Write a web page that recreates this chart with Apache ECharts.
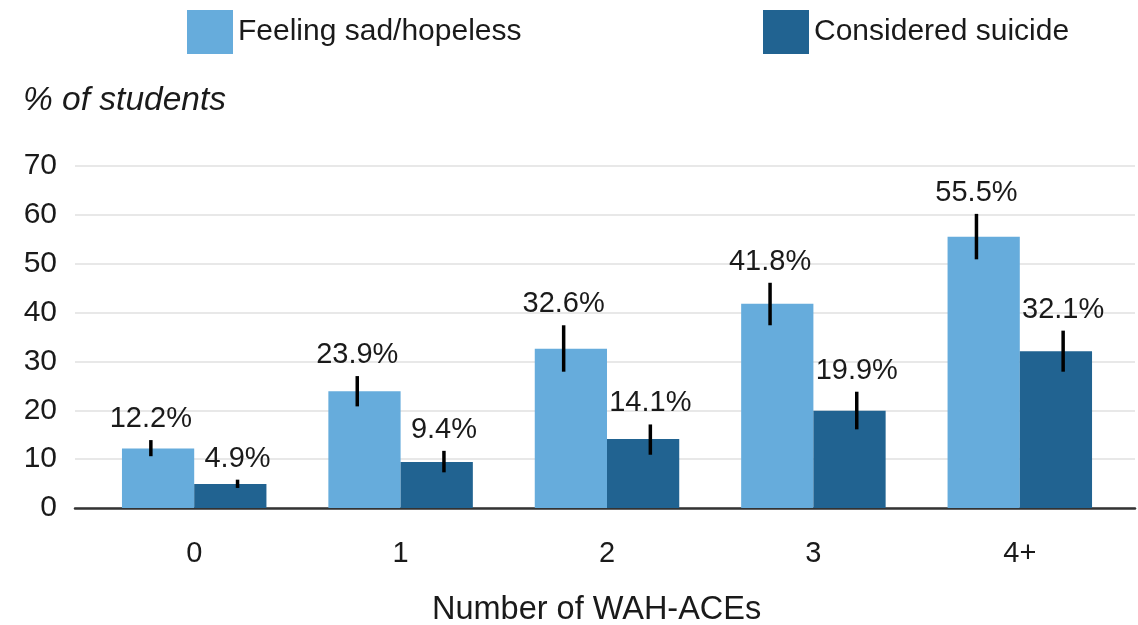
<!DOCTYPE html>
<html>
	<head>
		<meta charset="UTF-8">
		<title>WAH-ACEs</title>
		<style>
			html, body { margin: 0; padding: 0; background: #fff; }
			#main { width: 1138px; height: 625px; }
		</style>
	</head>
	<body>
		<div id="main"></div>
		<script type="text/javascript" src="https://cdn.jsdelivr.net/npm/echarts@6/dist/echarts.min.js"></script>
		<script>
			// 数据
			var categories = ['0', '1', '2', '3', '4+'];
			var sadValues = [12.2, 23.9, 32.6, 41.8, 55.5];
			var sadLow = [10.6, 20.8, 27.9, 37.4, 50.9];
			var sadHigh = [13.9, 27.0, 37.4, 46.1, 60.2];
			var suicideValues = [4.9, 9.4, 14.1, 19.9, 32.1];
			var suicideLow = [4.1, 7.3, 10.9, 16.1, 27.9];
			var suicideHigh = [5.8, 11.7, 17.1, 23.8, 36.3];

			var lightBlue = '#66acdc';
			var darkBlue = '#216391';
			var font = "'Liberation Sans', Arial, Helvetica, sans-serif";

			// 误差线数据: [类目序号, 下限, 上限, 数值]
			function errData(low, high, vals) {
				var out = [];
				for (var i = 0; i < vals.length; i++) {
					out.push([i, low[i], high[i], vals[i]]);
				}
				return out;
			}

			// 误差线 + 数值标签
			function errRender(offset) {
				return function(params, api) {
					var x = api.value(0);
					var lo = api.coord([x, api.value(1)]);
					var hi = api.coord([x, api.value(2)]);
					var dx = api.size([1, 0])[0] * offset;
					return {
						type: 'group',
						children: [{
							type: 'line',
							shape: { x1: lo[0] + dx, y1: lo[1], x2: hi[0] + dx, y2: hi[1] },
							style: { stroke: '#000', lineWidth: 3.5 }
						}, {
							type: 'text',
							x: hi[0] + dx,
							y: hi[1] - 21,
							style: {
								text: api.value(3).toFixed(1) + '%',
								fill: '#1a1a1a',
								fontSize: 29,
								fontFamily: font,
								align: 'center',
								verticalAlign: 'middle'
							}
						}]
					};
				};
			}

			var chart = echarts.init(document.getElementById('main'));

			var option = {
				animation: false,
				legend: [{
					data: ['Feeling sad/hopeless'],
					left: 187, top: 10, padding: 0,
					itemWidth: 46, itemHeight: 44,
					icon: 'rect',
					textStyle: { fontSize: 30, fontFamily: font, color: '#1a1a1a' }
				}, {
					data: ['Considered suicide'],
					left: 763, top: 10, padding: 0,
					itemWidth: 46, itemHeight: 44,
					icon: 'rect',
					textStyle: { fontSize: 30, fontFamily: font, color: '#1a1a1a' }
				}],
				grid: [
					{ left: 75, right: 3, top: 166, bottom: 117 },
					{ left: 91, right: 15, top: 166, bottom: 117 }
				],
				xAxis: [{
					gridIndex: 0, type: 'value', min: 0, max: 1,
					axisLine: { show: true, lineStyle: { color: '#333', width: 2.5 } },
					axisTick: { show: false }, axisLabel: { show: false }, splitLine: { show: false }
				}, {
					gridIndex: 1, type: 'category', data: categories,
					axisLine: { show: false }, axisTick: { show: false },
					axisLabel: { fontSize: 29, fontFamily: font, color: '#1a1a1a', margin: 31 }
				}],
				yAxis: [{
					gridIndex: 0, type: 'value', min: 0, max: 70, interval: 10,
					axisLine: { show: false }, axisTick: { show: false },
					axisLabel: { fontSize: 30, fontFamily: font, color: '#1a1a1a', margin: 18 },
					splitLine: { lineStyle: { color: '#e8e8e8', width: 2 } }
				}, {
					gridIndex: 1, type: 'value', min: 0, max: 70, interval: 10, show: false
				}],
				graphic: [{
					type: 'text', left: 23, top: 84,
					style: { text: '% of students', fontSize: 33.5, fontStyle: 'italic', fontFamily: font, fill: '#1a1a1a' }
				}, {
					type: 'text', left: 432, top: 594,
					style: { text: 'Number of WAH-ACEs', fontSize: 32.5, fontFamily: font, fill: '#1a1a1a' }
				}],
				series: [{
					name: 'Feeling sad/hopeless', type: 'bar',
					xAxisIndex: 1, yAxisIndex: 1,
					data: sadValues, barGap: '0%', barCategoryGap: '30%',
					itemStyle: { color: lightBlue }
				}, {
					name: 'Considered suicide', type: 'bar',
					xAxisIndex: 1, yAxisIndex: 1,
					data: suicideValues, barGap: '0%', barCategoryGap: '30%',
					itemStyle: { color: darkBlue }
				}, {
					type: 'custom', xAxisIndex: 1, yAxisIndex: 1, z: 10,
					renderItem: errRender(-0.21),
					data: errData(sadLow, sadHigh, sadValues)
				}, {
					type: 'custom', xAxisIndex: 1, yAxisIndex: 1, z: 10,
					renderItem: errRender(0.21),
					data: errData(suicideLow, suicideHigh, suicideValues)
				}]
			};

			chart.setOption(option);
		</script>
	</body>
</html>
